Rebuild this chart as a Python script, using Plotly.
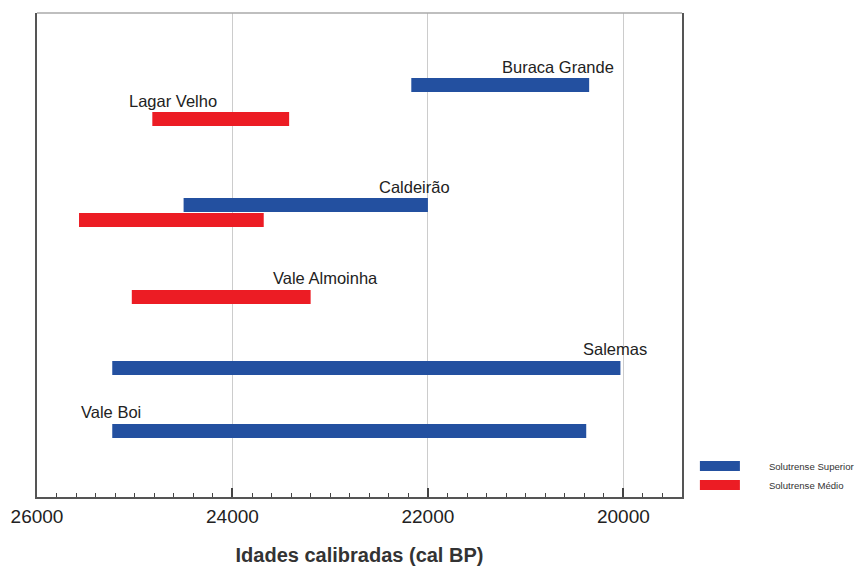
import plotly.graph_objects as go

# Data (calibrated ages, cal BP)
sites = ["Buraca Grande", "Lagar Velho", "Caldeirão", "Caldeirão", "Vale Almoinha", "Salemas", "Vale Boi"]
phase = ["Superior", "Médio", "Superior", "Médio", "Médio", "Superior", "Superior"]
age_start = [22170, 24820, 24500, 25570, 25030, 25230, 25230]
age_end = [20350, 23420, 22000, 23680, 23200, 20030, 20380]
lane = [412, 378, 292, 277, 200, 129, 66]

label_text = ["Buraca Grande", "Lagar Velho", "Caldeirão", "Vale Almoinha", "Salemas", "Vale Boi"]
label_x = [20670, 24610, 22140, 23050, 20090, 25240]
label_y = [430, 396, 310, 219, 148, 85]

tick_vals = [26000, 24000, 22000, 20000]
tick_text = ["26000", "24000", "22000", "20000"]

series = [("Superior", "Solutrense Superior", "#2350a0"),
          ("Médio", "Solutrense Médio", "#ec1c24")]

pad = "\u2003\u2003\u2002"

fig = go.Figure()
for key, name, color in series:
    xs, ys = [], []
    for s, e, y, p in zip(age_start, age_end, lane, phase):
        if p == key:
            xs += [s, e, None]
            ys += [y, y, None]
    fig.add_trace(go.Scatter(x=xs, y=ys, mode="lines", name=pad + name,
                             line=dict(color=color, width=14),
                             hoverinfo="skip"))

for t, x, y in zip(label_text, label_x, label_y):
    fig.add_annotation(x=x, y=y, text=t, showarrow=False,
                       font=dict(family="Liberation Sans, Arial", size=16.5, color="#222"))

fig.add_shape(type="line", xref="paper", yref="paper", x0=0, x1=1, y0=1, y1=1,
              line=dict(color="#aaaaaa", width=1.5))

fig.update_layout(
    width=855, height=559,
    margin=dict(l=29, r=181, t=5, b=70, autoexpand=False),
    paper_bgcolor="white", plot_bgcolor="white",
    font=dict(family="Liberation Sans, Arial", color="#222"),
    showlegend=True,
    legend=dict(x=1.02, y=0.094, xanchor="left", yanchor="top",
                font=dict(size=9.6, color="#333"), tracegroupgap=0,
                itemwidth=40, bgcolor="rgba(0,0,0,0)"),
    xaxis=dict(range=[26000, 19400], tickvals=tick_vals, ticktext=tick_text,
               ticks="inside", ticklen=9, tickwidth=1.5, tickcolor="#444",
               minor=dict(dtick=200, ticks="inside", ticklen=4, tickcolor="#444", tickwidth=1),
               showgrid=True, gridcolor="#cccccc", gridwidth=1,
               showline=True, linecolor="#555", linewidth=1.5,
               tickfont=dict(size=19, color="#222"), ticklabelstandoff=1,
               title=dict(text="<b>Idades calibradas (cal BP)</b>",
                          font=dict(size=20, color="#333"), standoff=22),
               zeroline=False),
    yaxis=dict(range=[0, 484], showticklabels=False, ticks="", showgrid=False,
               zeroline=False, showline=True, linecolor="#555", linewidth=2,
               mirror=True),
)

fig.write_html("out.html")
